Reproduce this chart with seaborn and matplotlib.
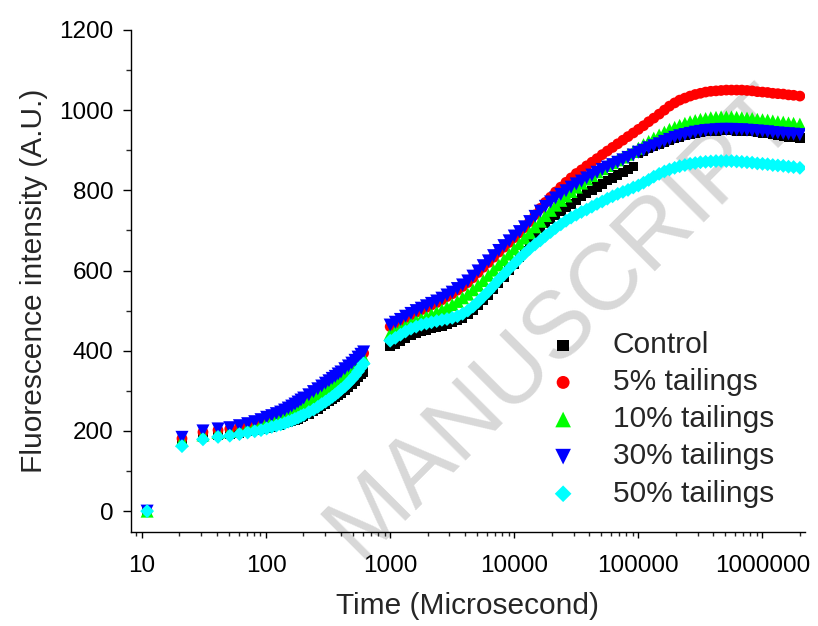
import numpy as np
import pandas as pd
import matplotlib
matplotlib.use("Agg")
import matplotlib.pyplot as plt
import seaborn as sns
from matplotlib.ticker import LogLocator, FuncFormatter, NullFormatter, MultipleLocator

# sampling times (microseconds): fast segment, then slow segment
time_fast = [11, 21, 31, 41, 51, 61, 71, 81, 91, 101, 111, 121, 131, 141, 151, 161, 171, 181,
             191, 201, 221, 241, 261, 281, 301, 321, 341, 361, 381, 401, 431, 461, 491, 521,
             551, 581, 611]
time_slow = [1000, 1100, 1210, 1330, 1470, 1620, 1780, 1960, 2150, 2370, 2610, 2870,
             3160, 3480, 3830, 4220, 4640, 5110, 5620, 6190, 6810, 7500, 8250, 9090,
             10000, 11000, 12100, 13300, 14700, 16200, 17800, 19600, 21500, 23700, 26100, 28700,
             31600, 34800, 38300, 42200, 46400, 51100, 56200, 61900, 68100, 75000, 82500, 90900,
             100000, 110000, 121000, 133000, 147000, 162000, 178000, 196000, 215000, 237000,
             261000, 287000, 316000, 348000, 383000, 422000, 464000, 511000, 562000, 619000,
             681000, 750000, 825000, 909000,
             1000000, 1100000, 1210000, 1330000, 1470000, 1620000, 1780000, 2000000]
time_us = time_fast + time_slow

control = [0, 170, 184, 189, 192, 195, 198, 201, 204, 207, 210, 213, 215, 218, 221, 224, 227, 230,
           233, 236, 242, 249, 255, 261, 267, 273, 278, 283, 289, 294, 302, 310, 317, 325,
           333, 340, 347,
           410, 417, 424, 431, 438, 443, 448, 452, 456, 459, 462, 466,
           470, 475, 482, 490, 501, 513, 526, 539, 554, 569, 584, 600,
           615, 632, 649, 668, 689, 706, 718, 728, 738, 748, 757, 766,
           775, 784, 792, 800, 808, 816, 824, 831, 838, 845, 852, 860,
           893, 898, 904, 909, 914, 919, 924, 929, 933, 936, 939, 942,
           944, 946, 947, 948, 949, 949, 949, 948, 948, 947, 946, 944,
           943, 941, 939, 937, 935, 933, 932, 930]

tail_5 = [0, 181, 197, 202, 205, 210, 215, 220, 225, 231, 235, 240, 244, 249, 254, 259, 264, 269,
          274, 279, 287, 295, 302, 309, 316, 322, 328, 333, 339, 344, 352, 359, 366, 373,
          381, 388, 394,
          460, 467, 474, 482, 489, 496, 502, 508, 514, 520, 527, 535,
          542, 551, 560, 570, 582, 595, 608, 620, 633, 646, 658, 670,
          682, 694, 707, 722, 739, 755, 770, 783, 796, 808, 820, 831,
          842, 851, 861, 870, 879, 889, 898, 907, 916, 925, 934, 943,
          952, 961, 971, 980, 990, 1000, 1010, 1018, 1025, 1030, 1035, 1039,
          1042, 1045, 1047, 1048, 1049, 1050, 1050, 1050, 1050, 1049, 1048, 1046,
          1045, 1044, 1042, 1041, 1040, 1038, 1037, 1035]

tail_10 = [0, 176, 190, 196, 199, 203, 208, 212, 216, 222, 226, 231, 235, 240, 244, 249, 253, 258,
           262, 267, 275, 283, 290, 297, 303, 310, 316, 322, 328, 334, 342, 349, 356, 363,
           369, 376, 382,
           442, 449, 455, 462, 469, 475, 480, 485, 491, 496, 502, 508,
           515, 523, 532, 541, 552, 563, 575, 588, 601, 614, 627, 641,
           654, 667, 681, 694, 709, 723, 737, 750, 763, 775, 786, 797,
           808, 818, 828, 837, 846, 854, 862, 869, 876, 883, 890, 897,
           905, 914, 922, 930, 938, 945, 952, 957, 962, 967, 971, 974,
           977, 979, 981, 982, 983, 983, 983, 982, 981, 980, 979, 977,
           976, 975, 973, 971, 970, 968, 967, 965]

tail_30 = [0, 184, 200, 205, 208, 213, 218, 223, 228, 234, 238, 243, 247, 252, 257, 262, 267, 272,
           277, 282, 290, 298, 305, 312, 319, 325, 331, 336, 342, 347, 355, 362, 369, 376,
           384, 391, 397,
           464, 471, 478, 486, 493, 500, 506, 512, 518, 524, 531, 539,
           546, 555, 564, 574, 586, 599, 612, 624, 637, 650, 662, 674,
           686, 697, 709, 722, 735, 748, 760, 771, 781, 790, 799, 808,
           816, 823, 831, 838, 845, 852, 858, 864, 870, 876, 882, 888,
           895, 900, 906, 911, 916, 922, 927, 932, 936, 939, 942, 945,
           947, 949, 950, 951, 952, 952, 952, 951, 951, 950, 949, 948,
           947, 946, 944, 943, 942, 941, 940, 939]

tail_50 = [0, 162, 179, 185, 188, 192, 196, 199, 202, 206, 210, 213, 216, 219, 223, 226, 230, 233,
           237, 240, 247, 253, 260, 267, 273, 279, 285, 291, 297, 303, 311, 320, 329, 338,
           348, 358, 368,
           425, 432, 440, 448, 455, 460, 465, 468, 471, 474, 477, 479,
           482, 486, 492, 500, 510, 522, 535, 548, 562, 577, 590, 604,
           617, 630, 642, 654, 665, 675, 686, 696, 706, 715, 724, 732,
           739, 746, 752, 759, 766, 772, 779, 785, 791, 796, 801, 807,
           812, 819, 826, 834, 841, 847, 852, 856, 860, 863, 866, 868,
           870, 871, 872, 873, 873, 873, 873, 872, 871, 870, 869, 867,
           866, 865, 863, 862, 861, 859, 858, 856]

groups = ["Control", "5% tailings", "10% tailings", "30% tailings", "50% tailings"]
series = [control, tail_5, tail_10, tail_30, tail_50]

df = pd.DataFrame({
    "time": time_us * len(groups),
    "value": sum(series, []),
    "group": np.repeat(groups, len(time_us)),
})

colors = {"Control": "#000000", "5% tailings": "#ff0000", "10% tailings": "#00ff00",
          "30% tailings": "#0000ff", "50% tailings": "#00ffff"}
markers = {"Control": "s", "5% tailings": "o", "10% tailings": "^",
           "30% tailings": "v", "50% tailings": "D"}
sizes = {"Control": 46, "5% tailings": 60, "10% tailings": 88,
         "30% tailings": 88, "50% tailings": 50}

sns.set_style("ticks")
plt.rcParams["font.family"] = ["Liberation Sans", "DejaVu Sans"]

fig = plt.figure(figsize=(8.18, 6.26), dpi=100)
fig.patch.set_facecolor("white")
ax = fig.add_axes([0.1601, 0.1502, 0.824, 0.802])
ax.patch.set_alpha(0)

# faint watermark behind the data
fig.text(562 / 818, 1 - 322 / 626, "MANUSCRIPT", rotation=45,
         rotation_mode="anchor", ha="center", va="center", fontsize=68,
         color="#d8d8d8", zorder=-1)

for g in groups:
    sns.scatterplot(data=df[df["group"] == g], x="time", y="value", ax=ax,
                    color=colors[g], marker=markers[g], s=sizes[g],
                    edgecolor="none", linewidth=0, label=g)

ax.set_xscale("log")
ax.set_xlim(8.15, 2.2e6)
ax.set_ylim(-52, 1200)
ax.xaxis.set_major_locator(LogLocator(base=10))
ax.xaxis.set_minor_locator(LogLocator(base=10, subs=np.arange(2, 10)))
ax.xaxis.set_major_formatter(FuncFormatter(lambda v, p: f"{int(round(v))}"))
ax.xaxis.set_minor_formatter(NullFormatter())
ax.yaxis.set_major_locator(MultipleLocator(200))
ax.yaxis.set_minor_locator(MultipleLocator(100))

for s in ["top", "right"]:
    ax.spines[s].set_visible(False)
for s in ["left", "bottom"]:
    ax.spines[s].set_linewidth(1.0)
    ax.spines[s].set_color("black")

ax.tick_params(axis="y", which="major", direction="out", length=5.5, width=1,
               labelsize=17.5, pad=7, colors="black")
ax.tick_params(axis="y", which="minor", direction="out", length=3.5, width=1)
ax.tick_params(axis="x", which="major", direction="out", length=4.5, width=1,
               labelsize=17.5, pad=12, colors="black")
ax.tick_params(axis="x", which="minor", direction="out", length=3, width=1)

ax.set_xlabel("Time (Microsecond)", fontsize=21.5, labelpad=11)
ax.set_ylabel("Fluorescence intensity (A.U.)", fontsize=21.5, labelpad=8)

ax.legend(loc="upper left", bbox_to_anchor=(0.619, 0.40), frameon=False,
          fontsize=21.5, borderaxespad=0, borderpad=0, handlelength=1.0,
          handletextpad=1.17, labelspacing=0.305, markerscale=1.2)

fig.savefig("out.png", dpi=100)
